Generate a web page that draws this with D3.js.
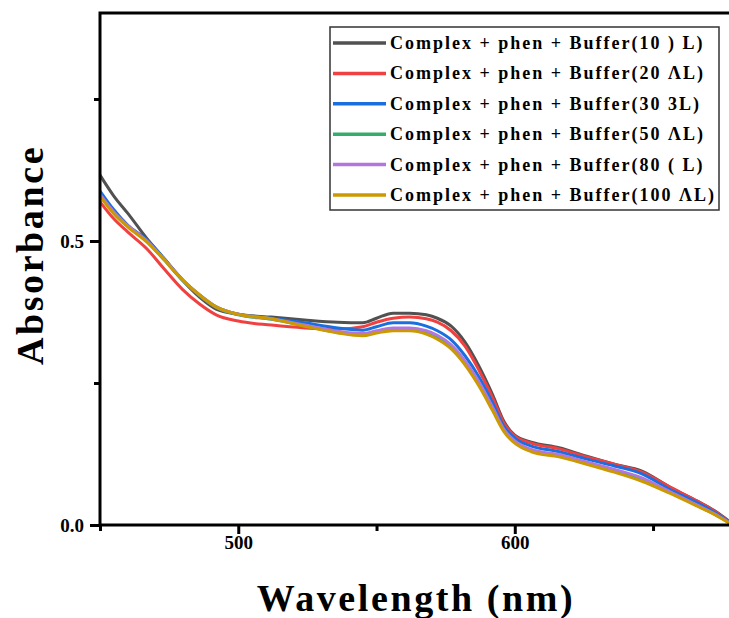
<!DOCTYPE html>
<html><head><meta charset="utf-8">
<script src="https://cdn.jsdelivr.net/npm/d3@7"></script>
<style>body{margin:0;background:#fff}svg{display:block}</style>
</head><body><svg id="c" width="729" height="618"></svg>
<script>
const wavelengths = [450,455,460,467,473,480,486,492,500,512,524,536,545,550,556,562,568,572,577,582,587,592,596,600,606,616,626,636,646,656,666,672,678];
const s10  = [0.616,0.579,0.549,0.504,0.470,0.430,0.401,0.380,0.371,0.366,0.361,0.357,0.356,0.364,0.373,0.373,0.370,0.364,0.350,0.322,0.280,0.229,0.183,0.158,0.146,0.136,0.121,0.107,0.095,0.067,0.042,0.026,0.005];
const s20  = [0.569,0.539,0.516,0.486,0.452,0.414,0.389,0.370,0.359,0.352,0.347,0.345,0.349,0.357,0.364,0.366,0.363,0.357,0.342,0.315,0.273,0.224,0.180,0.157,0.144,0.134,0.120,0.107,0.093,0.067,0.042,0.025,0.004];
const s30  = [0.588,0.555,0.528,0.502,0.470,0.431,0.405,0.384,0.371,0.364,0.356,0.347,0.343,0.349,0.356,0.356,0.350,0.342,0.326,0.298,0.261,0.215,0.174,0.153,0.139,0.129,0.116,0.104,0.090,0.063,0.039,0.023,0.004];
const s50  = [0.580,0.549,0.526,0.499,0.468,0.430,0.404,0.383,0.370,0.362,0.351,0.339,0.335,0.340,0.344,0.344,0.339,0.331,0.314,0.286,0.249,0.204,0.167,0.146,0.131,0.122,0.109,0.096,0.080,0.058,0.034,0.020,0.003];
const s80  = [0.582,0.551,0.527,0.500,0.469,0.431,0.405,0.384,0.371,0.363,0.352,0.341,0.337,0.342,0.347,0.347,0.342,0.334,0.317,0.289,0.252,0.207,0.169,0.148,0.133,0.124,0.111,0.098,0.083,0.059,0.035,0.020,0.003];
const s100 = [0.579,0.548,0.525,0.498,0.468,0.431,0.405,0.384,0.371,0.363,0.350,0.338,0.333,0.338,0.342,0.342,0.336,0.327,0.310,0.282,0.245,0.201,0.165,0.144,0.129,0.120,0.107,0.093,0.077,0.056,0.033,0.019,0.002];
const seriesNames = ["Complex + phen + Buffer(10 ) L)","Complex + phen + Buffer(20 ΛL)","Complex + phen + Buffer(30 3L)","Complex + phen + Buffer(50 ΛL)","Complex + phen + Buffer(80 ( L)","Complex + phen + Buffer(100 ΛL)"];
const seriesColors = ["#515151","#F14040","#1A6FDF","#37AD6B","#B177DE","#CC9900"];
const xMajorTicks = [500,600];
const xMinorTicks = [450,550,650];
const yMajorTicks = [0.0,0.5];
const yMinorTicks = [0.25,0.75];
const xTitle = "Wavelength (nm)";
const yTitle = "Absorbance";

const allSeries = [s10,s20,s30,s50,s80,s100];
const svg = d3.select("#c");
const L=100, T=13, R=736, B=525;
const x = d3.scaleLinear().domain([450,680]).range([L,R]);
const y = d3.scaleLinear().domain([0,0.9014]).range([B,T]);
const font = "'Liberation Serif','Times New Roman',serif";

const line = d3.line().x(d=>x(d[0])).y(d=>y(d[1])).curve(d3.curveMonotoneX);
allSeries.forEach((s,i)=>{
  svg.append("path").datum(wavelengths.map((w,j)=>[w,s[j]]))
    .attr("d",line).attr("fill","none").attr("stroke",seriesColors[i]).attr("stroke-width",3);
});

// frame
svg.append("rect").attr("x",L).attr("y",T).attr("width",R-L).attr("height",B-T)
  .attr("fill","none").attr("stroke","#000").attr("stroke-width",3);

// axes
const gx = svg.append("g").attr("transform",`translate(0,${B})`)
  .call(d3.axisBottom(x).tickValues(xMajorTicks).tickSize(9).tickPadding(2).tickFormat(d3.format("d")));
const gxm = svg.append("g").attr("transform",`translate(0,${B})`)
  .call(d3.axisBottom(x).tickValues(xMinorTicks).tickSize(6).tickFormat(""));
const gy = svg.append("g").attr("transform",`translate(${L},0)`)
  .call(d3.axisLeft(y).tickValues(yMajorTicks).tickSize(10).tickPadding(6).tickFormat(d3.format(".1f")));
const gym = svg.append("g").attr("transform",`translate(${L},0)`)
  .call(d3.axisLeft(y).tickValues(yMinorTicks).tickSize(6).tickFormat(""));
[gx,gxm,gy,gym].forEach(g=>{
  g.select(".domain").remove();
  g.selectAll(".tick line").attr("stroke","#000").attr("stroke-width",3);
  g.selectAll("text").attr("font-family",font).attr("font-weight","bold").attr("font-size",19).attr("fill","#000");
});

// titles
svg.append("text").attr("x",416).attr("y",611).attr("text-anchor","middle")
  .attr("font-family",font).attr("font-weight","bold").attr("font-size",38).attr("letter-spacing",2.6).text(xTitle);
svg.append("text").attr("transform","translate(43,255) rotate(-90)").attr("text-anchor","middle")
  .attr("font-family",font).attr("font-weight","bold").attr("font-size",38).attr("letter-spacing",2.6).text(yTitle);

// legend
const lg = svg.append("g");
lg.append("rect").attr("x",330).attr("y",27).attr("width",389).attr("height",183)
  .attr("fill","#fff").attr("stroke","#333").attr("stroke-width",1.5);
seriesNames.forEach((n,i)=>{
  const yy = 43 + i*30.4;
  lg.append("line").attr("x1",333).attr("x2",386).attr("y1",yy).attr("y2",yy)
    .attr("stroke",seriesColors[i]).attr("stroke-width",3.5);
  lg.append("text").attr("x",390).attr("y",yy+6).attr("font-family",font).attr("font-weight","bold")
    .attr("font-size",18).attr("letter-spacing",2).text(n);
});
</script></body></html>
